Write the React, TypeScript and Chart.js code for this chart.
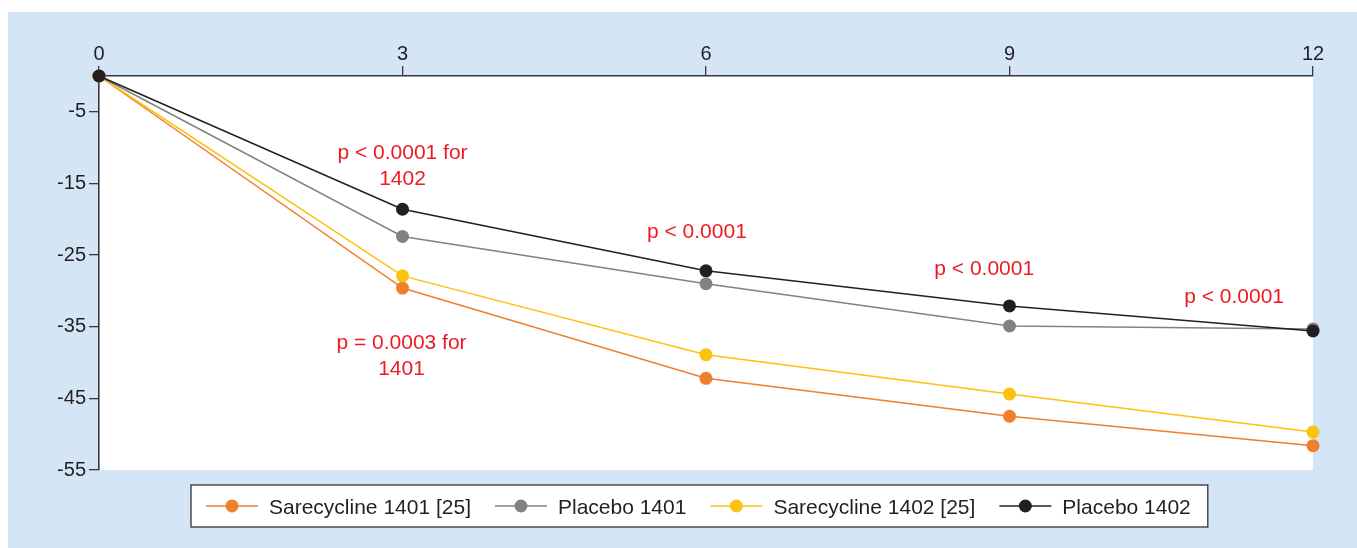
import React, { useEffect, useRef } from 'react';
import { Chart, registerables } from 'chart.js';

Chart.register(...registerables);

// ---- data ----
const months = [0, 3, 6, 9, 12];
const sarecycline1401 = [0, -29.6, -42.2, -47.5, -51.6];
const placebo1401 = [0, -22.4, -29.0, -34.9, -35.3];
const sarecycline1402 = [0, -27.9, -38.9, -44.4, -49.7];
const placebo1402 = [0, -18.6, -27.2, -32.1, -35.6];

const seriesNames = ['Sarecycline 1401 [25]', 'Placebo 1401', 'Sarecycline 1402 [25]', 'Placebo 1402'];
const seriesColors = ['#f07f2d', '#828282', '#fdc10f', '#231f20'];
const seriesDrawOrder = [4, 2, 3, 1];

const xTickValues = [0, 3, 6, 9, 12];
const yTickValues = [-5, -15, -25, -35, -45, -55];

const annotationTexts = [
  ['p < 0.0001 for', '1402'],
  ['p = 0.0003 for', '1401'],
  ['p < 0.0001'],
  ['p < 0.0001'],
  ['p < 0.0001'],
];
const annotationX = [3.0, 2.99, 5.91, 8.75, 11.22];
const annotationY = [-10.6, -37.0, -21.5, -26.8, -30.7];

const FONT = '"Liberation Sans", Arial, Helvetica, sans-serif';
const AXIS_COLOR = '#383838';
const TEXT_COLOR = '#231f20';
const NOTE_COLOR = '#ec1c24';
const BLUE = '#d4e6f5';

const plotBackground = {
  id: 'plotBackground',
  beforeDraw(chart: any) {
    const { ctx, chartArea: a } = chart;
    ctx.save();
    ctx.fillStyle = '#ffffff';
    ctx.fillRect(a.left, a.top, a.right - a.left, a.bottom - a.top);
    ctx.restore();
  },
};

const notesPlugin = {
  id: 'notes',
  afterDatasetsDraw(chart: any) {
    const { ctx } = chart;
    const xs = chart.scales.x;
    const ys = chart.scales.y;
    ctx.save();
    ctx.font = `21px ${FONT}`;
    ctx.fillStyle = NOTE_COLOR;
    ctx.textAlign = 'center';
    ctx.textBaseline = 'alphabetic';
    annotationTexts.forEach((lines, i) => {
      const px = xs.getPixelForValue(annotationX[i]);
      const py = ys.getPixelForValue(annotationY[i]);
      lines.forEach((line, j) => {
        ctx.fillText(line, px, py + 7.5 + j * 26);
      });
    });
    ctx.restore();
  },
};

const legendPlugin = {
  id: 'boxLegend',
  afterDraw(chart: any) {
    const { ctx, chartArea: a } = chart;
    ctx.save();
    ctx.font = `21px ${FONT}`;
    const padL = 15;
    const lineLen = 52;
    const gapText = 11;
    const gapItem = 24;
    const padR = 17;
    const dsets = chart.data.datasets;
    const widths = dsets.map((d: any) => ctx.measureText(d.label).width);
    let total = padL + padR + gapItem * (dsets.length - 1);
    widths.forEach((w: number) => { total += lineLen + gapText + w; });
    const left = a.left + 92;
    const top = a.bottom + 15;
    const h = 42;
    ctx.fillStyle = '#ffffff';
    ctx.fillRect(left, top, total, h);
    ctx.strokeStyle = '#333333';
    ctx.lineWidth = 1.3;
    ctx.strokeRect(left, top, total, h);
    const cy = top + h / 2;
    let x = left + padL;
    dsets.forEach((d: any, i: number) => {
      ctx.strokeStyle = d.borderColor;
      ctx.lineWidth = 1.5;
      ctx.beginPath();
      ctx.moveTo(x, cy);
      ctx.lineTo(x + lineLen, cy);
      ctx.stroke();
      ctx.fillStyle = d.pointBackgroundColor;
      ctx.beginPath();
      ctx.arc(x + lineLen / 2, cy, 6.5, 0, Math.PI * 2);
      ctx.fill();
      x += lineLen + gapText;
      ctx.fillStyle = TEXT_COLOR;
      ctx.textAlign = 'left';
      ctx.textBaseline = 'alphabetic';
      ctx.fillText(d.label, x, cy + 7.5);
      x += widths[i] + gapItem;
    });
    ctx.restore();
  },
};

export default function App() {
  const canvasRef = useRef<HTMLCanvasElement | null>(null);

  useEffect(() => {
    if (!canvasRef.current) return;
    const seriesValues = [sarecycline1401, placebo1401, sarecycline1402, placebo1402];
    const chart = new Chart(canvasRef.current, {
      type: 'line',
      data: {
        datasets: seriesValues.map((vals, i) => ({
          label: seriesNames[i],
          data: months.map((m, k) => ({ x: m, y: vals[k] })),
          borderColor: seriesColors[i],
          backgroundColor: seriesColors[i],
          pointBackgroundColor: seriesColors[i],
          pointBorderWidth: 0,
          pointRadius: 6.5,
          borderWidth: 1.5,
          tension: 0,
          fill: false,
          clip: false,
          order: seriesDrawOrder[i],
        })),
      },
      options: {
        animation: false,
        responsive: true,
        maintainAspectRatio: false,
        events: [],
        layout: { padding: { left: 0, top: 0, right: 44, bottom: 78 } },
        plugins: {
          legend: { display: false },
          tooltip: { enabled: false },
          title: { display: false },
        },
        scales: {
          x: {
            type: 'linear',
            position: 'top',
            min: 0,
            max: 12,
            afterBuildTicks: (s: any) => { s.ticks = xTickValues.map((v) => ({ value: v })); },
            afterFit: (s: any) => { s.height = 64; },
            grid: { drawOnChartArea: false, drawTicks: true, tickLength: 10, color: AXIS_COLOR, lineWidth: 1.3 },
            border: { display: true, color: AXIS_COLOR, width: 1.6 },
            ticks: { color: TEXT_COLOR, font: { size: 20, family: FONT }, padding: 0, maxRotation: 0, autoSkip: false },
          },
          y: {
            type: 'linear',
            min: -55,
            max: 0,
            afterBuildTicks: (s: any) => { s.ticks = yTickValues.map((v) => ({ value: v })); },
            afterFit: (s: any) => { s.width = 91; },
            grid: { drawOnChartArea: false, drawTicks: true, tickLength: 10, color: AXIS_COLOR, lineWidth: 1.3 },
            border: { display: true, color: AXIS_COLOR, width: 1.6 },
            ticks: { color: TEXT_COLOR, font: { size: 20, family: FONT }, padding: 3, autoSkip: false },
          },
        },
      },
      plugins: [plotBackground, notesPlugin, legendPlugin],
    } as any);
    return () => chart.destroy();
  }, []);

  return (
    <div style={{ position: 'fixed', left: 8, top: 12, width: 1349, height: 536, background: BLUE }}>
      <canvas ref={canvasRef} />
    </div>
  );
}
